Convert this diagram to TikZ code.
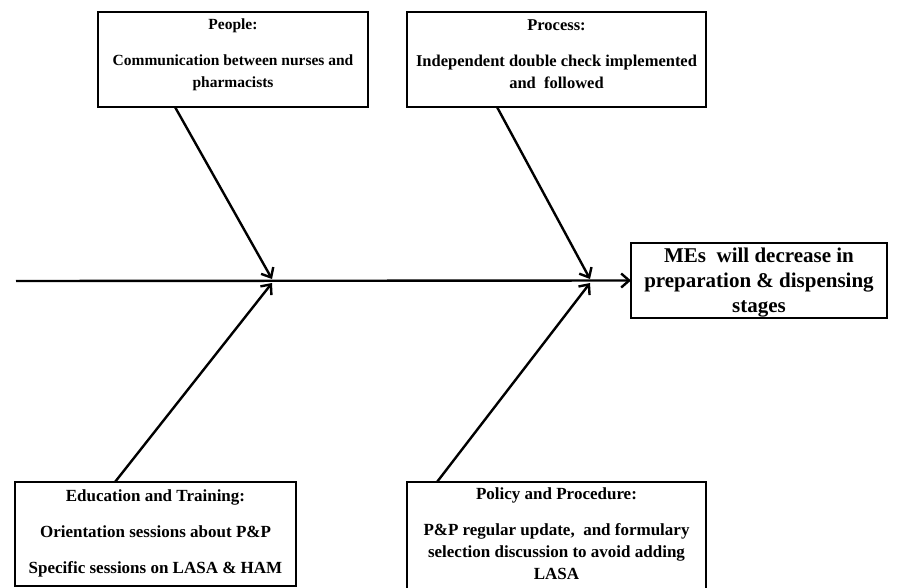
\documentclass[tikz,border=0pt]{standalone}
\usepackage{fontspec}
\setmainfont{Liberation Serif}
\usetikzlibrary{arrows.meta}
\begin{document}
\begin{tikzpicture}[x=1pt,y=-1pt,
  box/.style={draw, line width=2.8pt, inner sep=0pt, outer sep=0pt, anchor=north west},
  txt/.style={font=\bfseries\fontsize{17}{22}\selectfont, align=center, inner sep=0pt, anchor=north},
  conn/.style={line width=2.4pt, -{Straight Barb[length=8pt,width=14pt,line width=2.4pt]}}]
\useasboundingbox (0,0) rectangle (901,588);
\clip (0,0) rectangle (901,588);
% boxes
\node[box, minimum width=270pt, minimum height=95pt] (people) at (98,12) {};
\node[box, minimum width=299pt, minimum height=95pt] (process) at (407,12) {};
\node[box, minimum width=256pt, minimum height=75pt] (mes) at (631,243) {};
\node[box, minimum width=281pt, minimum height=104pt] (edu) at (15,482) {};
\node[box, minimum width=299pt, minimum height=130pt] (policy) at (407,482) {};
% texts
\node[txt, font=\bfseries\fontsize{15.5}{22}\selectfont] (peopletxt) at ([yshift=-7pt]people.north) {People:\\[14pt]Communication between nurses and\\pharmacists};
\node[txt, font=\bfseries\fontsize{16.5}{22}\selectfont] (processtxt) at ([yshift=-7pt]process.north) {Process:\\[14pt]Independent double check implemented\\and\ \ followed};
\node[txt, font=\bfseries\fontsize{21}{25}\selectfont] (mestxt) at ([yshift=-5pt]mes.north) {MEs\ \ will decrease in\\preparation \& dispensing\\stages};
\node[txt] (edutxt) at ([yshift=-7pt]edu.north) {Education and Training:\\[14pt]Orientation sessions about P\&P\\[14pt]Specific sessions on LASA \& HAM};
\node[txt] (policytxt) at ([yshift=-5pt]policy.north) {Policy and Procedure:\\[14pt]P\&P regular update,\ \ and formulary\\selection discussion to avoid adding\\LASA};
% spine and bones
\coordinate (start) at (16,281);
\coordinate (j1) at (272,281);
\coordinate (j2) at (590,281);
\coordinate (b1) at (175,107);
\coordinate (b2) at (497,107);
\coordinate (b3) at (115,482);
\coordinate (b4) at (437,482);
\draw[conn] (start) -- (mes.west);
\draw[conn] (b1) -- ([yshift=2pt]j1);
\draw[conn] (b2) -- ([yshift=2pt]j2);
\draw[conn] (b3) -- ([yshift=-2pt]j1);
\draw[conn] (b4) -- ([yshift=-2pt]j2);
\end{tikzpicture}
\end{document}
